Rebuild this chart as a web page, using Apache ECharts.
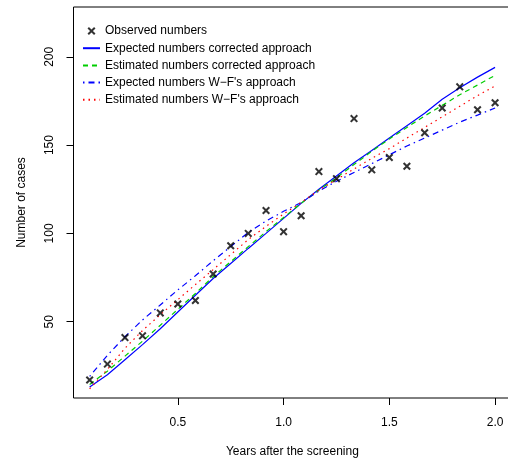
<!DOCTYPE html>
<html>
<head>
<meta charset="utf-8">
<script src="https://cdn.jsdelivr.net/npm/echarts@6/dist/echarts.min.js"></script>
<style>
  html, body { margin: 0; padding: 0; background: #fff; }
  #chart { width: 508px; height: 459px; }
</style>
</head>
<body>
<div id="chart"></div>
<script>
// years after the screening (monthly)
const years = [0.083, 0.167, 0.25, 0.333, 0.417, 0.5, 0.583, 0.667, 0.75, 0.833, 0.917, 1.0,
  1.083, 1.167, 1.25, 1.333, 1.417, 1.5, 1.583, 1.667, 1.75, 1.833, 1.917, 2.0];

const observed = [17, 26, 41, 42, 55, 60, 62, 77, 93, 100, 113, 101,
  110, 135, 131, 165, 136, 143, 138, 157, 171, 183, 170, 174];
const expCorrected = [13, 20, 28.5, 37, 46, 55.5, 65, 74.5, 83, 91.5, 100, 108.5,
  117, 125, 132.5, 140, 147, 154, 161, 168, 176, 182.5, 188.5, 194];
const estCorrected = [14.5, 22, 30.5, 39, 48, 57, 66, 75.5, 84, 92.5, 101, 109,
  117, 124.5, 131.5, 139, 146.5, 153.5, 160, 166.5, 172.5, 178.5, 184, 189.5];
const expWF = [19, 31, 41.5, 51, 59.5, 68, 76, 84.5, 92.5, 100.5, 107, 112.5,
  117.5, 124, 129.5, 134.5, 139.5, 144.5, 149.5, 154, 158.5, 163, 167, 171];
const estWF = [12, 23, 35, 45, 54, 62.5, 71, 79.5, 88, 96.5, 104, 111,
  117.5, 124.5, 130.5, 136.5, 142.5, 148, 154, 160, 166, 172, 178, 183.5];

const xTicks = [0.5, 1, 1.5, 2];
const xTickLabels = ['0.5', '1.0', '1.5', '2.0'];
const yTicks = [50, 100, 150, 200];
const yTickLabels = ['50', '100', '150', '200'];

const seriesNames = [
  'Observed numbers',
  'Expected numbers corrected approach',
  'Estimated numbers corrected approach',
  'Expected numbers W\u2212F\'s approach',
  'Estimated numbers W\u2212F\'s approach'
];

const font = 'Liberation Sans';
const cross = 'path://M0,1.8L1.8,0L5,3.2L8.2,0L10,1.8L6.8,5L10,8.2L8.2,10L5,6.8L1.8,10L0,8.2L3.2,5Z';

const pairs = (vals) => years.map((x, i) => [x, vals[i]]);

const lineSeries = (name, vals, color, dash) => ({
  name: name,
  type: 'line',
  data: pairs(vals),
  symbol: 'none',
  smooth: false,
  lineStyle: { color: color, width: 1.2, type: dash },
  itemStyle: { color: color },
  z: 2
});

const chart = echarts.init(document.getElementById('chart'), null, { renderer: 'canvas' });

const option = {
  animation: false,
  backgroundColor: '#fff',
  textStyle: { fontFamily: font },
  grid: {
    show: true,
    outerBoundsMode: 'none',
    containLabel: false,
    left: 73.5,
    top: 7,
    right: -3.3,
    bottom: 61,
    borderColor: '#000',
    borderWidth: 1,
    backgroundColor: 'transparent'
  },
  legend: {
    orient: 'vertical',
    left: 82,
    top: 24,
    padding: 0,
    itemWidth: 17,
    itemHeight: 8,
    itemGap: 3.2,
    textStyle: { fontFamily: font, fontSize: 12, color: '#000', lineHeight: 14 },
    data: [
      { name: seriesNames[0] },
      { name: seriesNames[1], itemStyle: { opacity: 0 } },
      { name: seriesNames[2], itemStyle: { opacity: 0 } },
      { name: seriesNames[3], itemStyle: { opacity: 0 } },
      { name: seriesNames[4], itemStyle: { opacity: 0 } }
    ]
  },
  xAxis: {
    type: 'value',
    min: 0.0067,
    max: 2.0767,
    name: 'Years after the screening',
    nameLocation: 'middle',
    nameGap: 48,
    nameTextStyle: { fontFamily: font, fontSize: 12, color: '#000' },
    axisLine: { show: false },
    splitLine: { show: false },
    axisTick: {
      show: true,
      customValues: xTicks,
      length: 7,
      lineStyle: { color: '#000', width: 1 }
    },
    axisLabel: {
      customValues: xTicks,
      margin: 19,
      fontFamily: font,
      fontSize: 12,
      color: '#000',
      formatter: (v) => xTickLabels[xTicks.indexOf(v)]
    }
  },
  yAxis: {
    type: 'value',
    min: 6.8,
    max: 228.2,
    name: 'Number of cases',
    nameLocation: 'middle',
    nameGap: 46,
    nameRotate: 90,
    nameTextStyle: { fontFamily: font, fontSize: 12, color: '#000' },
    axisLine: { show: false },
    splitLine: { show: false },
    axisTick: {
      show: true,
      customValues: yTicks,
      length: 7,
      lineStyle: { color: '#000', width: 1 }
    },
    axisLabel: {
      customValues: yTicks,
      rotate: 90,
      margin: 18,
      fontFamily: font,
      fontSize: 12,
      color: '#000',
      formatter: (v) => yTickLabels[yTicks.indexOf(v)]
    }
  },
  series: [
    {
      name: seriesNames[0],
      type: 'scatter',
      data: pairs(observed),
      symbol: cross,
      symbolSize: 8,
      itemStyle: { color: '#000' },
      z: 3
    },
    lineSeries(seriesNames[1], expCorrected, '#0000ff', 'solid'),
    lineSeries(seriesNames[2], estCorrected, '#00cd00', [5, 4]),
    lineSeries(seriesNames[3], expWF, '#0000ff', [1.5, 4, 6, 4]),
    lineSeries(seriesNames[4], estWF, '#ff0000', [1.5, 4])
  ]
};

chart.setOption(option);
</script>
</body>
</html>
